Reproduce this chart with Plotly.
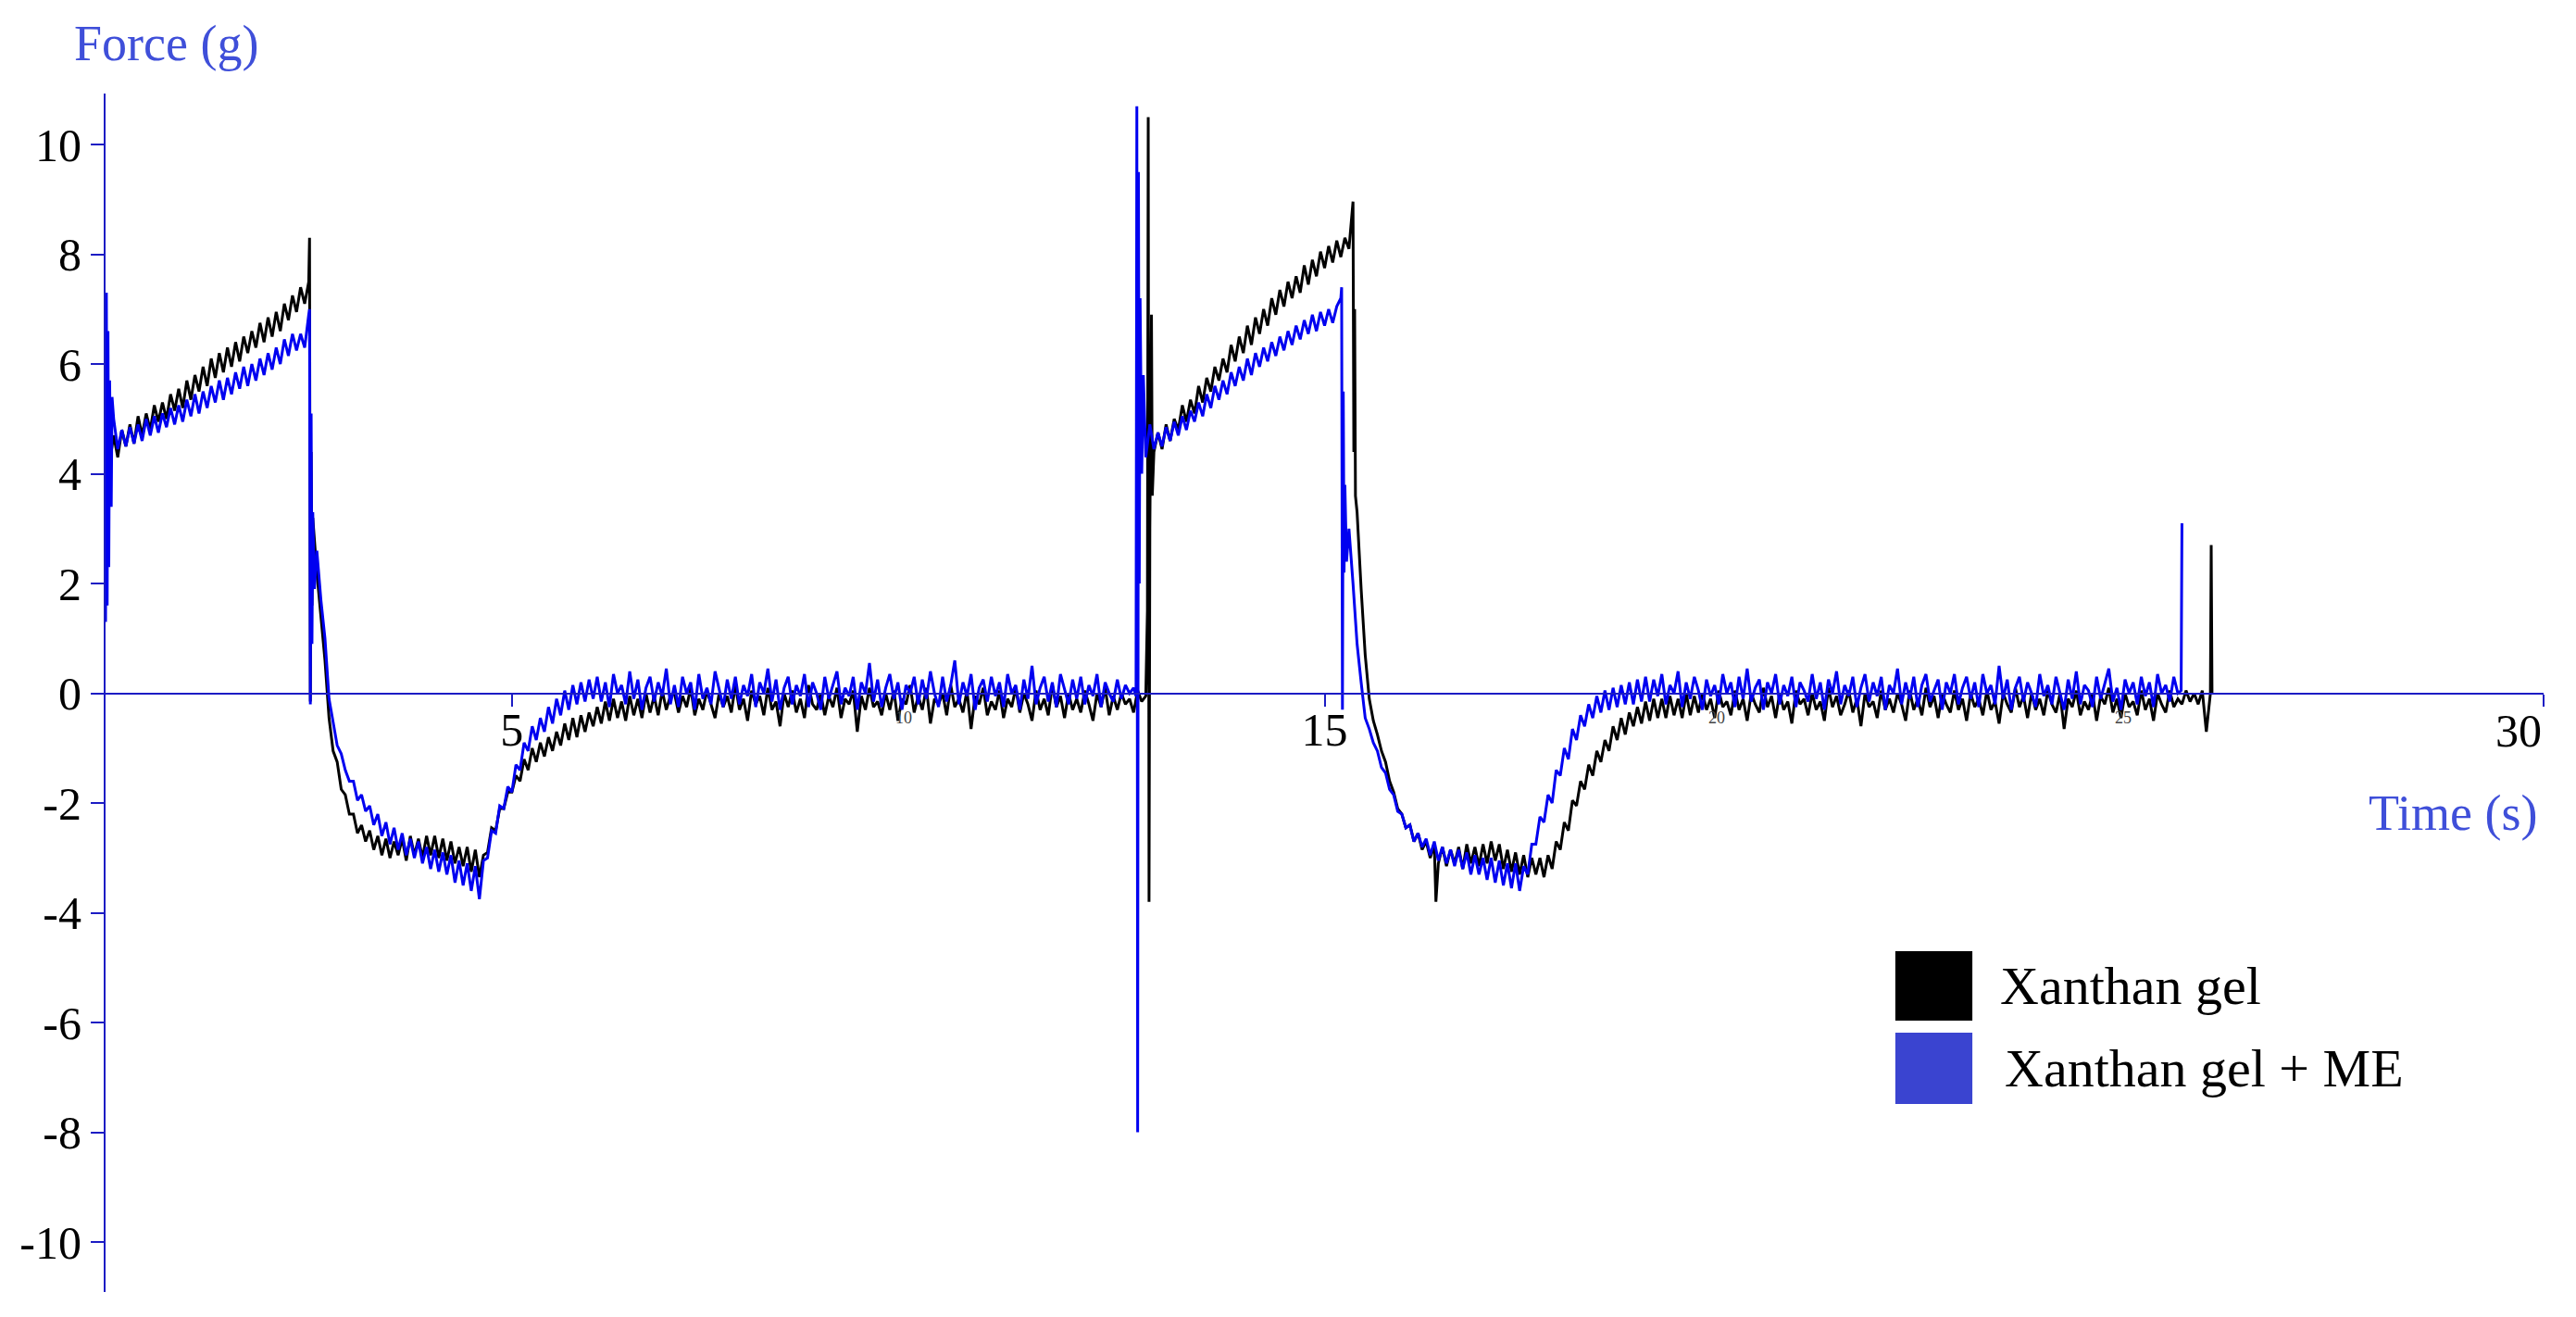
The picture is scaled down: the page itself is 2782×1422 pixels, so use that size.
import numpy as np
import plotly.graph_objects as go

# ---------------- data ----------------
DT = 0.05  # sampling step of the recorded traces (s), first sample at t = 0

# Xanthan gel (black trace) : force (g), one value every DT seconds
xanthan_force = [
    2.0, 4.2, 4.7, 4.3, 4.8, 4.5, 4.9, 4.55, 5.05, 4.7, 5.1, 4.8, 5.25, 4.95, 5.3, 5.0, 5.45, 5.15, 5.55, 5.2,
    5.7, 5.35, 5.8, 5.5, 5.95, 5.6, 6.1, 5.75, 6.2, 5.85, 6.3, 5.95, 6.4, 6.05, 6.5, 6.2, 6.6, 6.3, 6.75, 6.4,
    6.85, 6.5, 6.95, 6.6, 7.1, 6.8, 7.25, 6.95, 7.4, 7.1, 7.5, 3.2, 2.2, 1.4, 0.6, -0.45, -1.05, -1.25, -1.75, -1.85,
    -2.2, -2.2, -2.55, -2.4, -2.7, -2.5, -2.85, -2.6, -2.95, -2.65, -3.0, -2.7, -2.95, -2.65, -3.05, -2.6, -2.95, -2.65, -3.0, -2.6,
    -2.95, -2.6, -3.0, -2.65, -3.05, -2.7, -3.1, -2.8, -3.15, -2.8, -3.25, -2.85, -3.35, -2.95, -2.9, -2.45, -2.5, -2.1, -2.1, -1.8,
    -1.8, -1.5, -1.6, -1.2, -1.4, -1.0, -1.25, -0.9, -1.15, -0.8, -1.05, -0.7, -0.95, -0.55, -0.85, -0.45, -0.8, -0.4, -0.7, -0.35,
    -0.6, -0.25, -0.55, -0.15, -0.5, -0.1, -0.45, -0.15, -0.5, -0.05, -0.4, -0.1, -0.45, 0.0, -0.35, -0.05, -0.4, 0.05, -0.3, -0.05,
    0.0, -0.35, -0.05, -0.25, 0.1, -0.4, -0.1, -0.3, 0.05, -0.2, -0.45, 0.0, -0.25, -0.05, -0.35, 0.15, -0.3, -0.1, -0.5, 0.05,
    -0.2, -0.05, -0.4, 0.1, -0.3, -0.15, -0.6, 0.0, -0.25, 0.05, -0.35, -0.1, -0.45, 0.15, -0.2, -0.3, 0.0, -0.4, -0.05, -0.25,
    0.1, -0.45, -0.1, -0.2, 0.05, -0.7, -0.05, -0.3, 0.1, -0.25, -0.15, -0.4, 0.0, -0.3, 0.05, -0.5, -0.1, -0.2, 0.15, -0.35,
    -0.05, -0.3, 0.1, -0.55, -0.1, -0.2, 0.0, -0.4, 0.15, -0.25, -0.1, -0.35, 0.05, -0.65, -0.05, -0.2, 0.1, -0.4, -0.15, -0.3,
    0.05, -0.45, -0.1, -0.25, 0.1, -0.35, 0.0, -0.2, -0.5, 0.05, -0.3, -0.1, -0.4, 0.15, -0.25, -0.05, -0.45, 0.0, -0.3, -0.1,
    -0.35, 0.05, -0.2, -0.5, 0.0, -0.25, 0.1, -0.4, -0.05, -0.3, 0.0, -0.2, -0.1, -0.35, 0.05, -0.15, -0.05, 3.0, 4.4, 4.75,
    4.45, 4.9, 4.6, 5.0, 4.8, 5.25, 4.95, 5.35, 5.1, 5.6, 5.3, 5.75, 5.5, 5.95, 5.7, 6.1, 5.85, 6.35, 6.05, 6.5,
    6.2, 6.7, 6.35, 6.85, 6.55, 7.0, 6.7, 7.2, 6.9, 7.35, 7.05, 7.5, 7.2, 7.6, 7.3, 7.8, 7.45, 7.9, 7.6, 8.05,
    7.75, 8.15, 7.85, 8.25, 7.95, 8.3, 8.1, 8.96, 3.3, 1.9, 0.7, -0.1, -0.5, -0.75, -1.05, -1.25, -1.6, -1.8, -2.1, -2.2,
    -2.45, -2.4, -2.7, -2.55, -2.85, -2.7, -3.0, -2.75, -3.1, -2.8, -3.15, -2.85, -3.1, -2.8, -3.2, -2.75, -3.1, -2.8, -3.15, -2.75,
    -3.1, -2.7, -3.05, -2.75, -3.2, -2.85, -3.25, -2.9, -3.3, -2.95, -3.35, -3.0, -3.3, -3.0, -3.35, -2.95, -3.2, -2.7, -2.85, -2.35,
    -2.5, -1.95, -2.05, -1.6, -1.75, -1.3, -1.5, -1.05, -1.25, -0.85, -1.05, -0.6, -0.85, -0.45, -0.75, -0.35, -0.6, -0.25, -0.55, -0.15,
    -0.5, -0.1, -0.45, -0.1, -0.45, -0.05, -0.4, -0.1, -0.45, 0.0, -0.4, -0.05, -0.35, 0.0, -0.3, -0.1, -0.45, 0.05, -0.25, -0.15,
    -0.4, 0.05, -0.3, -0.1, -0.5, 0.0, -0.2, -0.35, 0.1, -0.25, -0.05, -0.45, 0.0, -0.3, -0.15, -0.55, 0.05, -0.2, -0.1, -0.4,
    0.0, -0.3, -0.15, -0.5, 0.1, -0.25, -0.05, -0.4, -0.2, 0.05, -0.35, -0.1, -0.6, 0.0, -0.25, -0.15, -0.45, 0.05, -0.3, -0.1,
    -0.35, 0.0, -0.2, -0.5, 0.05, -0.3, -0.1, -0.4, 0.1, -0.25, -0.05, -0.45, 0.0, -0.2, -0.35, 0.05, -0.3, -0.1, -0.5, 0.0,
    -0.25, -0.1, -0.4, 0.05, -0.3, -0.15, -0.55, 0.0, -0.2, -0.35, 0.1, -0.25, -0.05, -0.45, 0.0, -0.3, -0.1, -0.4, 0.05, -0.2,
    -0.35, 0.0, -0.65, -0.1, -0.25, 0.05, -0.4, -0.15, -0.3, 0.0, -0.5, -0.05, -0.2, 0.1, -0.35, -0.1, -0.45, 0.0, -0.25, -0.15,
    -0.4, 0.05, -0.3, -0.1, -0.5, 0.0, -0.2, -0.35, 0.05, -0.25, -0.1, -0.2, 0.05, -0.15, 0.0, -0.2, 0.05, -0.7, 0.0,
]
# fast transients of the black trace that fall between samples
xanthan_event_time = [2.51, 2.52, 2.53, 2.54, 12.82, 12.83, 12.84, 12.87, 12.88, 15.36, 15.37, 15.38, 16.37, 25.91, 25.92]
xanthan_event_force = [8.3, -0.15, 4.4, 1.6, 1.5, 10.5, -3.8, 6.9, 3.6, 4.4, 7.0, 3.6, -3.8, 2.7, 0.0]

# Xanthan gel + ME (blue trace) : force (g), one value every DT seconds
me_force = [
    1.3, 5.7, 5.0, 4.45, 4.8, 4.5, 4.85, 4.55, 4.9, 4.6, 5.0, 4.7, 5.05, 4.75, 5.1, 4.85, 5.2, 4.9, 5.25, 4.95,
    5.35, 5.05, 5.45, 5.1, 5.5, 5.2, 5.6, 5.3, 5.7, 5.35, 5.75, 5.45, 5.85, 5.55, 5.95, 5.6, 6.0, 5.7, 6.1, 5.8,
    6.2, 5.9, 6.3, 6.0, 6.45, 6.15, 6.55, 6.25, 6.55, 6.3, 6.9, 3.3, 2.6, 1.7, 1.0, -0.1, -0.55, -0.95, -1.1, -1.4,
    -1.6, -1.6, -1.95, -1.85, -2.15, -2.05, -2.4, -2.2, -2.6, -2.35, -2.75, -2.45, -2.85, -2.55, -2.95, -2.65, -3.0, -2.7, -3.1, -2.8,
    -3.2, -2.85, -3.25, -2.9, -3.3, -2.95, -3.45, -3.05, -3.5, -3.1, -3.6, -3.15, -3.75, -3.05, -3.0, -2.5, -2.55, -2.05, -2.1, -1.7,
    -1.8, -1.3, -1.4, -0.9, -1.05, -0.6, -0.85, -0.45, -0.7, -0.25, -0.55, -0.1, -0.4, 0.05, -0.3, 0.15, -0.2, 0.2, -0.15, 0.25,
    -0.1, 0.3, -0.15, 0.2, -0.25, 0.35, 0.0, 0.15, -0.2, 0.4, -0.1, 0.25, -0.3, 0.1, 0.3, -0.15, 0.2, -0.05, 0.45, -0.2,
    0.15, -0.25, 0.3, 0.0, 0.2, -0.3, 0.35, -0.1, 0.1, -0.2, 0.4, 0.05, -0.25, 0.25, -0.1, 0.3, -0.2, 0.15, -0.05, 0.35,
    -0.25, 0.2, 0.0, 0.45, -0.15, 0.25, -0.3, 0.1, 0.3, -0.2, 0.15, -0.05, 0.35, -0.25, 0.2, 0.0, -0.3, 0.3, -0.1, 0.15,
    0.4, -0.2, 0.1, -0.05, 0.3, -0.3, 0.2, 0.0, 0.55, -0.15, 0.25, -0.25, 0.1, 0.35, -0.1, 0.2, -0.3, 0.15, 0.0, 0.3,
    -0.2, 0.25, -0.1, 0.4, 0.0, -0.25, 0.3, -0.15, 0.15, 0.6, -0.2, 0.2, -0.05, 0.35, -0.3, 0.1, 0.25, -0.15, 0.3, -0.05,
    0.2, -0.25, 0.35, 0.0, 0.15, -0.3, 0.25, -0.1, 0.5, -0.2, 0.1, 0.3, -0.15, 0.2, -0.25, 0.35, 0.05, -0.2, 0.25, -0.1,
    0.3, -0.2, 0.15, -0.05, 0.35, -0.25, 0.2, 0.0, -0.15, 0.25, -0.1, 0.15, 0.0, 0.1, -8.0, 4.0, 4.3, 4.9, 4.45, 4.75,
    4.5, 4.85, 4.6, 4.95, 4.7, 5.05, 4.8, 5.15, 4.95, 5.3, 5.05, 5.45, 5.2, 5.6, 5.35, 5.7, 5.45, 5.85, 5.6, 5.95,
    5.7, 6.1, 5.8, 6.2, 5.95, 6.3, 6.05, 6.4, 6.15, 6.5, 6.25, 6.6, 6.35, 6.7, 6.45, 6.8, 6.55, 6.9, 6.6, 6.95,
    6.7, 7.0, 6.75, 7.05, 7.2, 3.8, 3.0, 2.0, 0.9, 0.2, -0.45, -0.65, -0.9, -1.05, -1.35, -1.45, -1.75, -1.85, -2.15, -2.2,
    -2.45, -2.4, -2.7, -2.55, -2.8, -2.65, -2.95, -2.7, -3.05, -2.8, -3.1, -2.85, -3.15, -2.85, -3.2, -2.9, -3.3, -2.95, -3.3, -3.0,
    -3.4, -3.0, -3.45, -3.05, -3.5, -3.1, -3.55, -3.1, -3.6, -3.15, -3.3, -2.75, -2.75, -2.25, -2.35, -1.85, -2.0, -1.4, -1.5, -1.0,
    -1.2, -0.65, -0.85, -0.4, -0.6, -0.2, -0.45, -0.05, -0.35, 0.05, -0.3, 0.1, -0.25, 0.15, -0.2, 0.2, -0.2, 0.25, -0.15, 0.3,
    -0.15, 0.25, -0.05, 0.35, -0.2, 0.15, 0.0, 0.4, -0.25, 0.2, -0.1, 0.3, 0.05, -0.3, 0.25, -0.05, 0.15, -0.2, 0.35, 0.0,
    0.2, -0.25, 0.3, -0.1, 0.45, -0.15, 0.1, 0.25, -0.3, 0.2, 0.0, 0.35, -0.2, 0.15, -0.05, 0.3, -0.25, 0.2, 0.05, -0.15,
    0.35, -0.1, 0.2, -0.3, 0.25, 0.0, 0.4, -0.2, 0.15, -0.05, 0.3, -0.25, 0.1, 0.35, -0.15, 0.2, -0.05, 0.3, -0.3, 0.15,
    0.0, 0.45, -0.2, 0.2, -0.1, 0.3, -0.25, 0.15, 0.35, -0.15, 0.05, 0.25, -0.3, 0.2, 0.0, 0.35, -0.2, 0.1, 0.3, -0.1,
    0.2, -0.25, 0.35, 0.0, 0.15, -0.2, 0.5, -0.1, 0.25, -0.3, 0.1, 0.3, -0.15, 0.2, 0.0, -0.25, 0.35, -0.05, 0.15, -0.2,
    0.3, 0.0, -0.3, 0.25, -0.1, 0.4, -0.2, 0.15, 0.05, -0.25, 0.3, -0.1, 0.2, 0.45, -0.15, 0.1, -0.3, 0.25, 0.0, 0.2,
    -0.2, 0.3, -0.05, 0.2, -0.25, 0.35, 0.0, 0.15, -0.15, 0.3, 0.0, 3.1,
]
me_event_time = [0.01, 0.02, 0.03, 0.04, 0.07, 0.08, 2.51, 2.52, 2.53, 2.54, 2.57,
                 12.68, 12.69, 12.71, 12.72, 12.73, 12.77, 15.21, 15.22, 15.23, 15.24, 15.27, 25.54]
me_event_force = [7.3, 1.6, 6.6, 2.3, 3.4, 5.4, 7.0, -0.2, 5.1, 0.9, 1.9,
                  -0.05, 10.7, 9.5, 2.0, 7.2, 5.8, 7.4, -0.3, 5.5, 2.2, 2.4, 0.05]

series_names = ["Xanthan gel", "Xanthan gel + ME"]
series_colors = ["#000000", "#0000f0"]
legend_swatch_colors = ["#000000", "#3a44d0"]

y_tick_values = [-10, -8, -6, -4, -2, 0, 2, 4, 6, 8, 10]
y_tick_labels = ["-10", "-8", "-6", "-4", "-2", "0", "2", "4", "6", "8", "10"]
x_tick_values = [5, 15, 30]
x_tick_labels = ["5", "15", ""]          # "30" is drawn right-aligned to its tick, as in the original
x_end_label = "30"
x_minor_labels = ["10", "20", "25"]
x_minor_label_pos = [9.95, 19.95, 24.95]

X_RANGE = [0, 30]
Y_RANGE = [-10.91, 10.93]

AXIS_COLOR = "#1c1cc4"
TITLE_COLOR = "#3f4fd9"
FONT = "Liberation Serif, Times New Roman, serif"


def build_series(grid_values, ev_t, ev_f):
    t = np.round(np.arange(len(grid_values)) * DT, 3)
    tt = np.concatenate([t, np.asarray(ev_t, dtype=float)])
    ff = np.concatenate([np.asarray(grid_values, dtype=float), np.asarray(ev_f, dtype=float)])
    order = np.argsort(tt, kind="stable")
    return tt[order], ff[order]


bx, by = build_series(xanthan_force, xanthan_event_time, xanthan_event_force)
mx, my = build_series(me_force, me_event_time, me_event_force)

fig = go.Figure()
fig.add_trace(go.Scatter(x=bx, y=by, mode="lines", name=series_names[0],
                         line=dict(color=series_colors[0], width=3.0)))
fig.add_trace(go.Scatter(x=mx, y=my, mode="lines", name=series_names[1],
                         line=dict(color=series_colors[1], width=3.0)))

x_axis_position = (0 - Y_RANGE[0]) / (Y_RANGE[1] - Y_RANGE[0])

fig.update_layout(
    width=2782, height=1422,
    margin=dict(l=114, r=35, t=101, b=27),
    paper_bgcolor="white", plot_bgcolor="white",
    showlegend=False,
    font=dict(family=FONT, size=50, color="black"),
)
fig.update_xaxes(
    range=X_RANGE, anchor="free", position=x_axis_position,
    showline=True, linecolor=AXIS_COLOR, linewidth=2,
    ticks="outside", ticklen=13, tickwidth=2, tickcolor=AXIS_COLOR,
    tickmode="array", tickvals=x_tick_values, ticktext=x_tick_labels,
    tickfont=dict(family=FONT, size=50, color="black"),
    ticklabelstandoff=-18,
    showgrid=False, zeroline=False, automargin=False,
)
fig.update_yaxes(
    range=Y_RANGE,
    showline=True, linecolor=AXIS_COLOR, linewidth=2,
    ticks="outside", ticklen=14, tickwidth=2, tickcolor=AXIS_COLOR,
    tickmode="array", tickvals=y_tick_values, ticktext=y_tick_labels,
    tickfont=dict(family=FONT, size=50, color="black"),
    ticklabelstandoff=0,
    showgrid=False, zeroline=False, automargin=False,
)

annotations = [
    dict(text="Force (g)", xref="paper", yref="paper", x=-0.0137, y=1.0421,
         xanchor="left", yanchor="middle", showarrow=False,
         font=dict(family=FONT, size=54, color=TITLE_COLOR)),
    dict(text="Time (s)", xref="paper", yref="paper", x=0.9985, y=0.3995,
         xanchor="right", yanchor="middle", showarrow=False,
         font=dict(family=FONT, size=54, color=TITLE_COLOR)),
    dict(text=x_end_label, x=X_RANGE[1], y=-0.68, xref="x", yref="y",
         xanchor="right", yanchor="middle", showarrow=False,
         font=dict(family=FONT, size=50, color="black")),
]
for lbl, pos in zip(x_minor_labels, x_minor_label_pos):
    annotations.append(dict(text=lbl, x=pos, y=-0.45, xref="x", yref="y",
                            xanchor="right", yanchor="middle", showarrow=False,
                            font=dict(family=FONT, size=18, color="#444444")))

# legend (drawn as swatches + labels, like the original)
legend_rows = [(0.2264, 0.2844), (0.1569, 0.2164)]
legend_text_x = [0.7763, 0.7782]
shapes = []
for (y0, y1), col, name, tx in zip(legend_rows, legend_swatch_colors, series_names, legend_text_x):
    shapes.append(dict(type="rect", xref="paper", yref="paper", x0=0.7341, x1=0.7657,
                       y0=y0, y1=y1, fillcolor=col, line=dict(width=0)))
    annotations.append(dict(text=name, xref="paper", yref="paper", x=tx, y=(y0 + y1) / 2,
                            xanchor="left", yanchor="middle", showarrow=False,
                            font=dict(family=FONT, size=58, color="black")))

fig.update_layout(annotations=annotations, shapes=shapes)

fig.write_html("out.html", config={"displayModeBar": False},
               post_script="document.body.style.margin='0';")
